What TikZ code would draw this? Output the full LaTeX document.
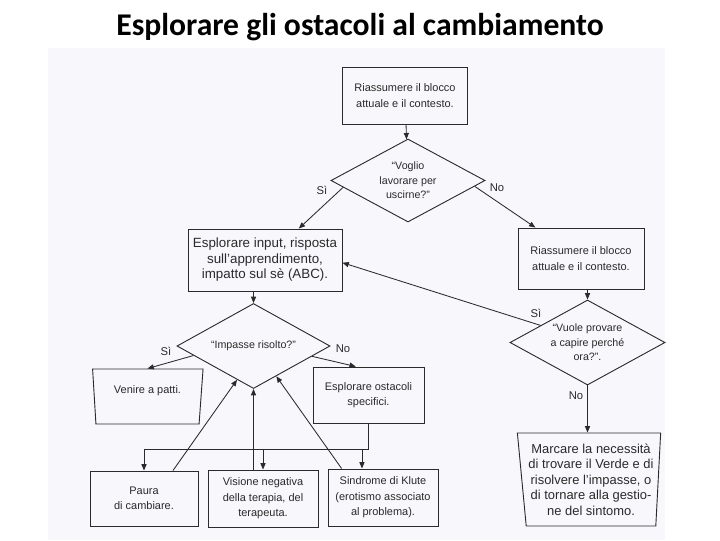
\documentclass[tikz,border=0pt]{standalone}
\usepackage{fontspec}
\setmainfont{Liberation Sans}
\newfontfamily\titlefont{Carlito}
\usepackage{tikz}
\usetikzlibrary{arrows.meta,shapes.geometric}
\definecolor{scanink}{HTML}{2A2A2A}
\definecolor{scanpage}{HTML}{F8F8FC}

\begin{document}
\begin{tikzpicture}[x=0.025cm, y=-0.025cm,
  box/.style={draw=scanink, line width=0.65pt, text=scanink, align=center, inner sep=1pt,
    font=\fontsize{7.8}{11}\selectfont},
  dia/.style={draw=scanink, line width=0.65pt, text=scanink, align=center, diamond, inner sep=0pt,
    font=\fontsize{7.6}{10.4}\selectfont},
  trap/.style={box, trapezium, trapezium stretches=true},
  arr/.style={draw=scanink, line width=0.6pt, -{Triangle[length=4.5pt,width=3.6pt]}},
  lbl/.style={text=scanink, font=\fontsize{8}{10}\selectfont}]
\useasboundingbox (0,0) rectangle (720,540);
% Page
\fill[scanpage] (48,48) rectangle (665,540);
\node[font=\titlefont\bfseries\fontsize{22.5}{26}\selectfont] (title) at (360,27) {Esplorare gli ostacoli al cambiamento};
% Top
\node[box, minimum width=3.125cm, minimum height=1.425cm] (riass1) at (405,95.5) {Riassumere il blocco\\attuale e il contesto.};
\node[dia, minimum width=3.85cm, minimum height=2.075cm, aspect=1.855] (voglio) at (408,180.5) {“Voglio\\lavorare per\\uscirne?”};
\node[lbl] (si1) at (322,190) {Sì};
\node[lbl] (no1) at (497,188) {No};
% Left branch
\node[box, minimum width=3.85cm, minimum height=1.55cm, font=\fontsize{9.5}{11}\selectfont] (esplora) at (265,260) {Esplorare input, risposta\\sull'apprendimento,\\impatto sul sè (ABC).};
\node[dia, minimum width=3.825cm, minimum height=2.125cm, aspect=1.8] (impasse) at (253.5,346) {“Impasse risolto?”};
\node[lbl] (si2) at (166,351) {Sì};
\node[lbl] (no2) at (343,349) {No};
\node[trap, minimum width=2.775cm, minimum height=1.375cm, trapezium left angle=95.2, trapezium right angle=96.2] (venire) at (147.5,396.5) {Venire a patti.\\[-1pt]};
\node[box, minimum width=2.775cm, minimum height=1.4cm] (ostacoli) at (368.5,395) {Esplorare ostacoli\\specifici.};
\coordinate (bus) at (368.5,449);
% Bottom row
\node[box, minimum width=2.7cm, minimum height=1.375cm] (paura) at (144,498.5) {Paura\\di cambiare.};
\node[box, minimum width=2.75cm, minimum height=1.425cm] (visione) at (263,498.5) {Visione negativa\\della terapia, del\\terapeuta.};
\node[box, minimum width=2.75cm, minimum height=1.425cm] (sindrome) at (383,497.5) {Sindrome di Klute\\(erotismo associato\\al problema).};
% Right branch
\node[box, minimum width=3.15cm, minimum height=1.525cm] (riass2) at (581,258.5) {Riassumere il blocco\\attuale e il contesto.};
\node[dia, minimum width=3.875cm, minimum height=2.125cm, aspect=1.82] (vuole) at (587.5,342.5) {“Vuole provare\\a capire perché\\ora?”.};
\node[lbl] (si3) at (536,313) {Sì};
\node[lbl] (no3) at (576,396) {No};
\node[trap, minimum width=3.6cm, minimum height=2.325cm, trapezium left angle=96.7, trapezium right angle=93.7, font=\fontsize{9.2}{11}\selectfont] (marcare) at (591,479.5) {Marcare la necessità\\di trovare il Verde e di\\risolvere l'impasse, o\\di tornare alla gestio-\\ne del sintomo.};
% Connectors
\draw[arr] (riass1) -- (voglio);
\draw[arr] (voglio.186) -- (esplora);
\draw[arr] (voglio.355) -- (riass2);
\draw[arr] (riass2.south -| vuole.north) -- (vuole.north);
\draw[arr] (vuole.160) -- (esplora.358);
\draw[arr] (vuole.south) -- (vuole.south |- marcare.north);
\draw[arr] (esplora.south -| impasse.north) -- (impasse.north);
\draw[arr] (impasse.189) -- (venire.north);
\draw[arr] (impasse.350) -- (ostacoli.114);
\draw[arr] (ostacoli.south) -- (ostacoli.south |- bus) -| (paura.north);
\draw[arr] (visione.north |- bus) -- (visione.north);
\draw[arr] (sindrome.126 |- bus) -- (sindrome.126);
\draw[arr] (paura.44) -- (impasse.244);
\draw[arr] (visione.north -| impasse.south) -- (impasse.south);
\draw[arr] (sindrome.145) -- (impasse.307);
\end{tikzpicture}
\end{document}
